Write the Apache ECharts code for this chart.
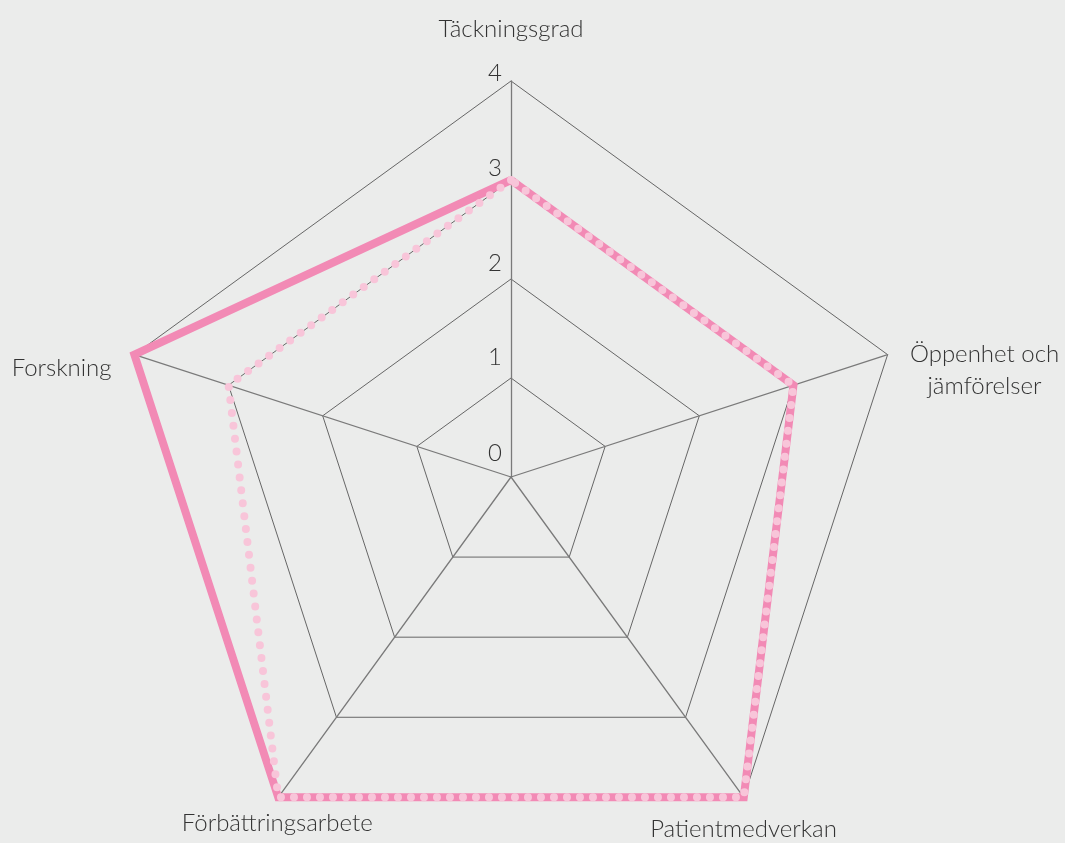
<!DOCTYPE html>
<html>
<head>
<meta charset="utf-8">
<script src="https://cdn.jsdelivr.net/npm/echarts@6/dist/echarts.min.js"></script>
<style>
  html, body { margin: 0; padding: 0; background: #ebeceb; }
  #chart { width: 1065px; height: 843px; }
</style>
</head>
<body>
<div id="chart"></div>
<script>
// Indicators, listed counter-clockwise from the top
const indicatorNames = ['Täckningsgrad', 'Forskning', 'Förbättringsarbete', 'Patientmedverkan', 'Öppenhet och\njämförelser'];
const scaleMax = 4;
const tickLabels = ['0', '1', '2', '3', '4'];
const seriesSolid = [3, 4, 4, 4, 3];
const seriesDotted = [3, 3, 4, 4, 3];

const FONT = 'Lato, "Open Sans", sans-serif';
const TEXT = '#333';
const FS = 24;
const LH = 32;

// Per-indicator placement of the axis names
const nameStyles = [
  { gap: 36, style: { align: 'center', verticalAlign: 'bottom' } },
  { gap: 24, style: { align: 'right', verticalAlign: 'top', padding: [5, 0, 0, 0] } },
  { gap: 12, style: { align: 'center', verticalAlign: 'top', padding: [0, 0, 0, 12] } },
  { gap: 20, style: { align: 'center', verticalAlign: 'top', padding: [0, 24, 0, 0] } },
  { gap: 22, style: { align: 'left', verticalAlign: 'middle', padding: [44, 0, 0, 0] } }
];

// Scale numbers sit a little higher the closer they are to the centre
const tickLift = [48, 42, 32, 24, 15];
const tickRich = {};
tickLabels.forEach((t, i) => {
  tickRich['t' + i] = {
    fontSize: FS, fontFamily: FONT, fontWeight: 300, color: TEXT,
    padding: [0, 0, tickLift[i], 0]
  };
});

const chart = echarts.init(document.getElementById('chart'), null, { renderer: 'canvas' });

const indicator = indicatorNames.map((n, i) => {
  const o = {
    name: n,
    min: 0,
    max: scaleMax,
    nameGap: nameStyles[i].gap,
    nameTextStyle: Object.assign({
      color: TEXT, fontSize: FS, fontFamily: FONT, fontWeight: 300, lineHeight: LH,
      rich: { c: { width: 152, align: 'center', fontSize: FS, fontFamily: FONT, fontWeight: 300, color: TEXT, lineHeight: LH } }
    }, nameStyles[i].style)
  };
  if (i === 0) {
    o.axisLabel = {
      show: true,
      showMinLabel: true,
      showMaxLabel: true,
      color: TEXT,
      fontSize: FS,
      fontFamily: FONT,
      fontWeight: 300,
      margin: 9,
      align: 'right',
      verticalAlign: 'middle',
      rich: tickRich,
      formatter: v => {
        const k = Math.round(v);
        return '{t' + k + '|' + tickLabels[k] + '}';
      }
    };
  }
  return o;
});

chart.setOption({
  backgroundColor: '#ebeceb',
  animation: false,
  radar: {
    center: [511, 477],
    radius: 396,
    startAngle: 90,
    splitNumber: 4,
    shape: 'polygon',
    indicator: indicator,
    axisName: {
      formatter: function (name) {
        if (name.indexOf('\n') >= 0) {
          return name.split('\n').map(s => '{c|' + s + '}').join('\n');
        }
        return name;
      }
    },
    axisLine: { lineStyle: { color: '#7a7a7a', width: 1.3 } },
    splitLine: { lineStyle: { color: '#666', width: 1 } },
    splitArea: { show: false },
    axisTick: { show: false },
    axisLabel: { show: false }
  },
  series: [
    {
      type: 'radar',
      symbol: 'none',
      z: 2,
      lineStyle: { color: '#f28ab5', width: 8, join: 'miter' },
      data: [{ value: seriesSolid }]
    },
    {
      type: 'radar',
      symbol: 'none',
      z: 3,
      lineStyle: { color: '#f8c5d9', width: 8, type: [0, 13], cap: 'round' },
      data: [{ value: seriesDotted }]
    }
  ]
});
</script>
</body>
</html>
